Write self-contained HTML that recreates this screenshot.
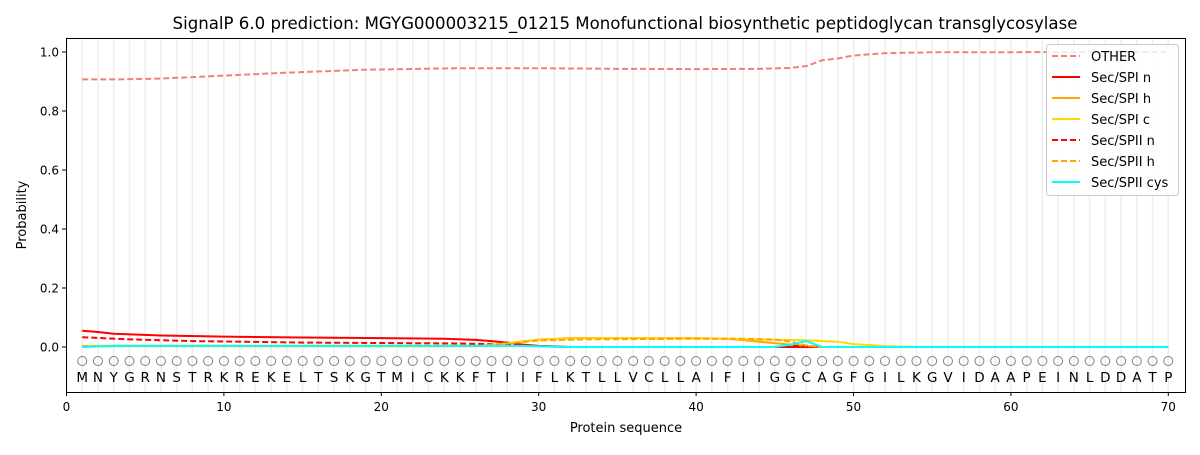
<!DOCTYPE html>
<html><head><meta charset="utf-8"><style>
body{margin:0;background:#fff}
svg text{font-family:"DejaVu Sans","Liberation Sans",sans-serif;fill:#000}
</style></head><body>
<svg width="1200" height="450" xmlns="http://www.w3.org/2000/svg">
<rect width="1200" height="450" fill="#fff"/>
<text x="625" y="29" font-size="16.6" text-anchor="middle">SignalP 6.0 prediction: MGYG000003215_01215 Monofunctional biosynthetic peptidoglycan transglycosylase</text>
<g id="grid" stroke="#eeeeee" stroke-width="1.5"></g>
<g transform="translate(66.5,347) scale(15.74,-295)" fill="none" stroke-width="2">
<polyline vector-effect="non-scaling-stroke" stroke="#f08080" stroke-dasharray="6,3" points="1,0.907 3,0.907 6,0.91 8,0.915 10,0.92 14,0.93 19,0.94 25,0.945 30,0.945 35,0.943 40,0.942 44,0.943 46,0.946 47,0.952 48,0.972 49,0.978 50,0.988 52,0.996 55,0.999 70,1"/>
<polyline vector-effect="non-scaling-stroke" stroke="#ff0000" points="1,0.055 2,0.051 3,0.045 6,0.039 10,0.035 15,0.032 20,0.03 24,0.028 26,0.024 27,0.02 28,0.015 29,0.008 30,0.004 32,0 70,0"/>
<polyline vector-effect="non-scaling-stroke" stroke="#ffa500" points="1,0.003 26,0.003 28,0.012 30,0.025 32,0.03 40,0.03 42,0.028 44,0.018 46,0.008 48,0 70,0"/>
<polyline vector-effect="non-scaling-stroke" stroke="#ffd700" points="1,0.004 27,0.005 29,0.02 31,0.027 35,0.03 42,0.028 44,0.025 47,0.023 49,0.018 50,0.01 52,0.003 54,0 70,0"/>
<polyline vector-effect="non-scaling-stroke" stroke="#ff0000" stroke-dasharray="6,3" points="1,0.033 4,0.026 8,0.02 15,0.015 25,0.012 28,0.008 30,0.003 32,0 45,0 46,0.004 47,0.002 48,0"/>
<polyline vector-effect="non-scaling-stroke" stroke="#ffa500" stroke-dasharray="6,3" points="1,0.003 26,0.003 28,0.012 30,0.022 33,0.026 40,0.028 43,0.028 45,0.025 46,0.018 47,0.005 48,0"/>
<polyline vector-effect="non-scaling-stroke" stroke="#00ffff" points="1,0 3,0.004 29,0.004 31,0.001 32,0 45,0 46,0.008 47,0.02 48,0 70,0"/>
</g>
<g id="seq" font-size="13.5"></g>
<rect x="66.5" y="38.5" width="1119" height="354" fill="none" stroke="#000" stroke-width="1"/>
<g font-size="12" text-anchor="middle" id="xt"></g>
<g font-size="12" text-anchor="end" id="yt"></g>
<text x="626" y="432" font-size="13" text-anchor="middle">Protein sequence</text>
<text transform="translate(26,215) rotate(-90)" font-size="13" text-anchor="middle">Probability</text>
<rect x="1046.5" y="44.5" width="132" height="151" rx="3" fill="#fff" fill-opacity="0.8" stroke="#ccc"/>
<g stroke-width="2" font-size="13">
<line x1="1052" y1="56" x2="1080" y2="56" stroke="#f08080" stroke-dasharray="6,3"/><text x="1091" y="61">OTHER</text>
<line x1="1052" y1="77" x2="1080" y2="77" stroke="#ff0000"/><text x="1091" y="82">Sec/SPI n</text>
<line x1="1052" y1="98" x2="1080" y2="98" stroke="#ffa500"/><text x="1091" y="103">Sec/SPI h</text>
<line x1="1052" y1="119" x2="1080" y2="119" stroke="#ffd700"/><text x="1091" y="124">Sec/SPI c</text>
<line x1="1052" y1="140" x2="1080" y2="140" stroke="#ff0000" stroke-dasharray="6,3"/><text x="1091" y="145">Sec/SPII n</text>
<line x1="1052" y1="161" x2="1080" y2="161" stroke="#ffa500" stroke-dasharray="6,3"/><text x="1091" y="166">Sec/SPII h</text>
<line x1="1052" y1="182" x2="1080" y2="182" stroke="#00ffff"/><text x="1091" y="187">Sec/SPII cys</text>
</g>
</svg>
<script>
const NS="http://www.w3.org/2000/svg";
function el(p,t,a,txt){const e=document.createElementNS(NS,t);for(const k in a)e.setAttribute(k,a[k]);if(txt!==undefined)e.textContent=txt;document.getElementById(p).appendChild(e);}
const X=i=>66.5+15.74*i, Y=p=>347-295*p;
const seq="MNYGRNSTRKREKELTSKGTMICKKFTIIFLKTLLVCLLAIFIIGGCAGFGILKGVIDAAPEINLDDATP";
for(let i=1;i<=70;i++){
 el("grid","line",{x1:X(i),x2:X(i),y1:39,y2:392});
 el("seq","circle",{cx:X(i),cy:361,r:4.5,fill:"none",stroke:"#808080","stroke-width":1});
 el("seq","text",{x:X(i),y:382,"text-anchor":"middle"},seq[i-1]);
}
for(let v=0;v<=70;v+=10){el("xt","line",{x1:X(v),x2:X(v),y1:392,y2:396,stroke:"#000"});el("xt","text",{x:X(v),y:411},v);}
for(let k=0;k<=5;k++){const p=k*0.2;el("yt","line",{x1:62,x2:66,y1:Y(p),y2:Y(p),stroke:"#000"});el("yt","text",{x:59,y:Y(p)+4.5},p.toFixed(1));}
</script>
</body></html>
